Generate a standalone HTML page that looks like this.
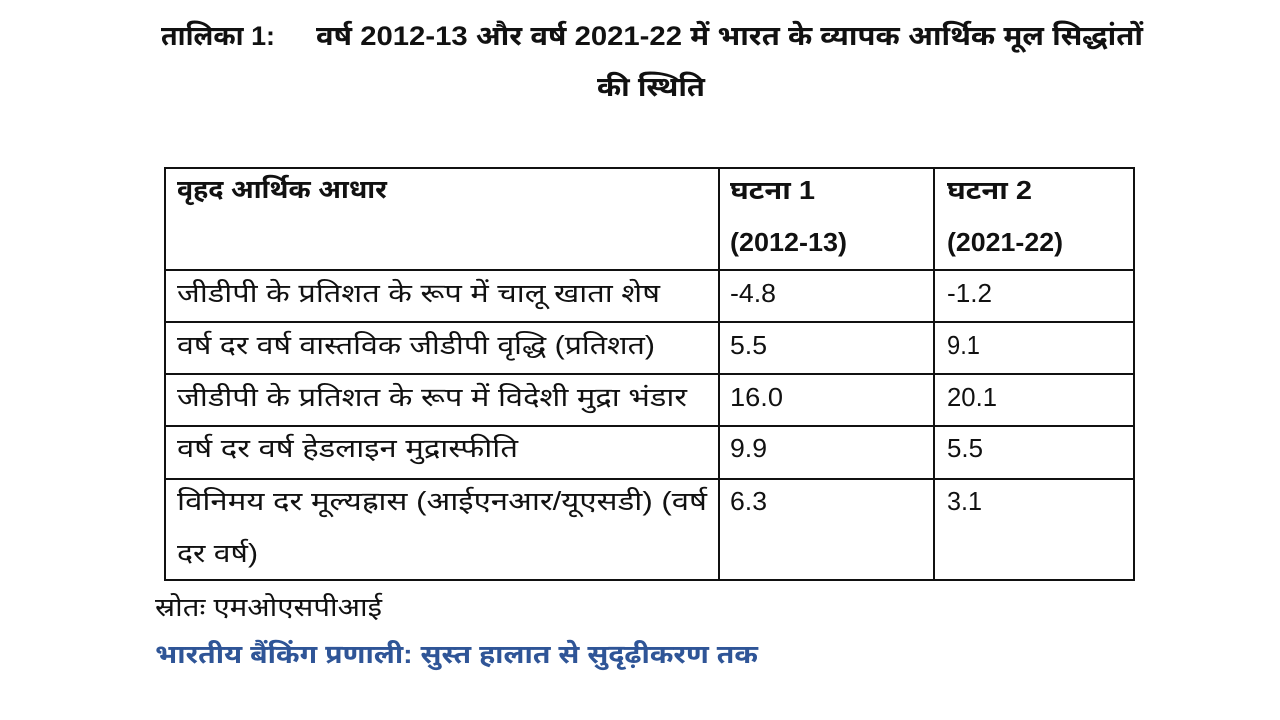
<!DOCTYPE html>
<html>
<head>
<meta charset="utf-8">
<style>
  html, body { margin: 0; padding: 0; background: #ffffff; }
  svg { display: block; }
  .t { font-family: "Liberation Sans", "Noto Sans Devanagari", "Lohit Devanagari", "FreeSans", "Noto Sans CJK SC", sans-serif; fill: #111; }
  .b { font-weight: bold; }
  .n { font-family: "Liberation Sans", Arial, sans-serif; fill: #111; font-size: 26px; }
</style>
</head>
<body>
<svg width="1280" height="720" viewBox="0 0 1280 720" xmlns="http://www.w3.org/2000/svg">
  <rect x="0" y="0" width="1280" height="720" fill="#ffffff"/>

  <!-- Title -->
  <text class="t b" x="161" y="45" font-size="27" textLength="114" lengthAdjust="spacingAndGlyphs">तालिका 1:</text>
  <text class="t b" x="316" y="45" font-size="27" textLength="827" lengthAdjust="spacingAndGlyphs">वर्ष 2012-13 और वर्ष 2021-22 में भारत के व्यापक आर्थिक मूल सिद्धांतों</text>
  <text class="t b" x="597" y="96" font-size="27" textLength="108" lengthAdjust="spacingAndGlyphs">की स्थिति</text>

  <!-- Table grid -->
  <g stroke="#111" stroke-width="2" fill="none">
    <rect x="165" y="168" width="969" height="412"/>
    <line x1="719" y1="168" x2="719" y2="580"/>
    <line x1="934" y1="168" x2="934" y2="580"/>
    <line x1="165" y1="270" x2="1134" y2="270"/>
    <line x1="165" y1="322" x2="1134" y2="322"/>
    <line x1="165" y1="374" x2="1134" y2="374"/>
    <line x1="165" y1="426" x2="1134" y2="426"/>
    <line x1="165" y1="479" x2="1134" y2="479"/>
  </g>

  <!-- Header -->
  <text class="t b" x="177" y="198" font-size="26" textLength="210" lengthAdjust="spacingAndGlyphs">वृहद आर्थिक आधार</text>
  <text class="t b" x="730" y="199" font-size="26" textLength="85" lengthAdjust="spacingAndGlyphs">घटना 1</text>
  <text class="t b" x="730" y="251" font-size="26" textLength="117" lengthAdjust="spacingAndGlyphs">(2012-13)</text>
  <text class="t b" x="947" y="199" font-size="26" textLength="85" lengthAdjust="spacingAndGlyphs">घटना 2</text>
  <text class="t b" x="947" y="251" font-size="26" textLength="116" lengthAdjust="spacingAndGlyphs">(2021-22)</text>

  <!-- Row labels -->
  <text class="t" x="177" y="302" font-size="26" textLength="483" lengthAdjust="spacingAndGlyphs">जीडीपी के प्रतिशत के रूप में चालू खाता शेष</text>
  <text class="t" x="177" y="354" font-size="26" textLength="478" lengthAdjust="spacingAndGlyphs">वर्ष दर वर्ष वास्तविक जीडीपी वृद्धि (प्रतिशत)</text>
  <text class="t" x="177" y="406" font-size="26" textLength="510" lengthAdjust="spacingAndGlyphs">जीडीपी के प्रतिशत के रूप में विदेशी मुद्रा भंडार</text>
  <text class="t" x="177" y="457" font-size="26" textLength="341" lengthAdjust="spacingAndGlyphs">वर्ष दर वर्ष हेडलाइन मुद्रास्फीति</text>
  <text class="t" x="177" y="510" font-size="26" textLength="530" lengthAdjust="spacingAndGlyphs">विनिमय दर मूल्यह्रास (आईएनआर/यूएसडी) (वर्ष</text>
  <text class="t" x="177" y="562" font-size="26" textLength="81" lengthAdjust="spacingAndGlyphs">दर वर्ष)</text>

  <!-- Column 2 values -->
  <text class="n" x="730" y="302" textLength="46" lengthAdjust="spacingAndGlyphs">-4.8</text>
  <text class="n" x="730" y="354" textLength="37" lengthAdjust="spacingAndGlyphs">5.5</text>
  <text class="n" x="730" y="406" textLength="53" lengthAdjust="spacingAndGlyphs">16.0</text>
  <text class="n" x="730" y="457" textLength="37" lengthAdjust="spacingAndGlyphs">9.9</text>
  <text class="n" x="730" y="510" textLength="37" lengthAdjust="spacingAndGlyphs">6.3</text>

  <!-- Column 3 values -->
  <text class="n" x="947" y="302" textLength="45" lengthAdjust="spacingAndGlyphs">-1.2</text>
  <text class="n" x="947" y="354" textLength="33" lengthAdjust="spacingAndGlyphs">9.1</text>
  <text class="n" x="947" y="406" textLength="50" lengthAdjust="spacingAndGlyphs">20.1</text>
  <text class="n" x="947" y="457" textLength="36" lengthAdjust="spacingAndGlyphs">5.5</text>
  <text class="n" x="947" y="510" textLength="35" lengthAdjust="spacingAndGlyphs">3.1</text>

  <!-- Source -->
  <text class="t" x="155" y="616" font-size="26" textLength="227" lengthAdjust="spacingAndGlyphs">स्रोतः एमओएसपीआई</text>

  <!-- Blue heading -->
  <text class="t b" x="155" y="663" font-size="26" style="fill:#2f5597" textLength="603" lengthAdjust="spacingAndGlyphs">भारतीय बैंकिंग प्रणाली: सुस्त हालात से सुदृढ़ीकरण तक</text>
</svg>
</body>
</html>
